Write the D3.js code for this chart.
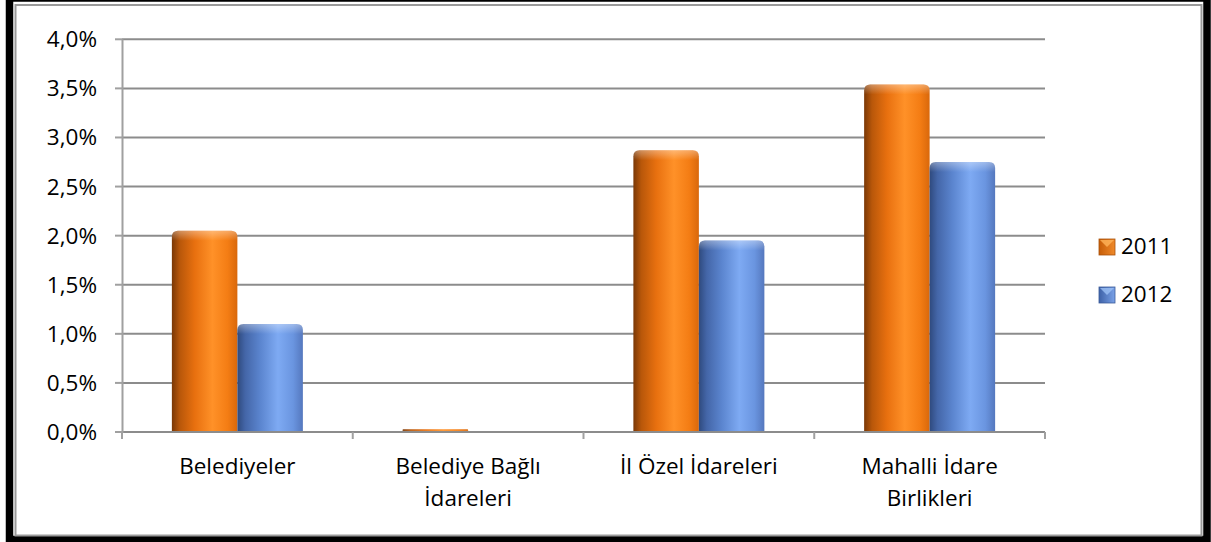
<!DOCTYPE html>
<html><head><meta charset="utf-8">
<script src="https://cdn.jsdelivr.net/npm/d3@7"></script>
<style>
html,body{margin:0;padding:0;background:#fff;}
svg{display:block;font-family:"Open Sans",sans-serif;}
</style></head><body>
<svg id="c" width="1211" height="542"></svg>
<script>
const categories = [["Belediyeler"], ["Belediye Bağlı", "İdareleri"], ["İl Özel İdareleri"], ["Mahalli İdare", "Birlikleri"]];
const seriesNames = ["2011", "2012"];
const values2011 = [2.05, 0.03, 2.87, 3.54];
const values2012 = [1.10, 0.0, 1.95, 2.75];
const yTicks = [0, 0.5, 1.0, 1.5, 2.0, 2.5, 3.0, 3.5, 4.0];

const svg = d3.select("#c");
const W = 1211, H = 542;
// frame
svg.append("rect").attr("x",0).attr("y",0).attr("width",W).attr("height",H).attr("fill","#fff");
svg.append("rect").attr("x",9.5).attr("y",-2).attr("width",1197.5).attr("height",541.5)
  .attr("fill","none").attr("stroke","#000").attr("stroke-width",7.5);
svg.append("rect").attr("x",15.5).attr("y",5).attr("width",1186).attr("height",530.5)
  .attr("fill","#fff").attr("stroke","#9a9a9a").attr("stroke-width",2);

const defs = svg.append("defs");
function grad(id, stops){
  const g = defs.append("linearGradient").attr("id",id).attr("x1","0").attr("x2","1").attr("y1","0").attr("y2","0");
  stops.forEach(s=>g.append("stop").attr("offset",s[0]).attr("stop-color",s[1]));
}
grad("gO", [[0,"#7a3806"],[0.12,"#b8570a"],[0.35,"#e8700f"],[0.62,"#ff9128"],[0.85,"#f47d14"],[1,"#d9680b"]]);
grad("gB", [[0,"#2f4a7e"],[0.12,"#4466a8"],[0.35,"#5b85cf"],[0.62,"#7eaaf3"],[0.85,"#6a95e0"],[1,"#5578be"]]);
const lg = defs.append("linearGradient").attr("id","gTop").attr("x1","0").attr("x2","0").attr("y1","0").attr("y2","1");
lg.append("stop").attr("offset",0).attr("stop-color","#fff").attr("stop-opacity",0.35);
lg.append("stop").attr("offset",1).attr("stop-color","#fff").attr("stop-opacity",0);
grad("lO", [[0,"#c65d08"],[1,"#f08a2a"]]);
grad("lB", [[0,"#3e62a8"],[1,"#7aa2e8"]]);

const x0 = d3.scaleBand().domain(d3.range(categories.length)).range([122, 1045]).padding(0);
const y = d3.scaleLinear().domain([0, 4]).range([432, 39.3]);
const barW = 65.5;
const x1 = d3.scaleBand().domain(seriesNames).range([0, barW*2]).padding(0);

const g = svg.append("g");
// gridlines
g.selectAll("line.grid").data(yTicks).enter().append("line")
  .attr("x1",122).attr("x2",1045).attr("y1",d=>y(d)).attr("y2",d=>y(d))
  .attr("stroke","#8c8c8c").attr("stroke-width",2);
// y axis
g.append("line").attr("x1",122.5).attr("x2",122.5).attr("y1",y(4)).attr("y2",y(0)+1)
  .attr("stroke","#a0a0a0").attr("stroke-width",2);
g.selectAll("line.yt").data(yTicks).enter().append("line")
  .attr("x1",115).attr("x2",122).attr("y1",d=>y(d)).attr("y2",d=>y(d))
  .attr("stroke","#a0a0a0").attr("stroke-width",2);
g.selectAll("text.yl").data(yTicks).enter().append("text")
  .attr("x",97).attr("y",d=>y(d)+8).attr("text-anchor","end")
  .attr("font-size",22.5).attr("fill","#000")
  .text(d=>d3.format(".1f")(d).replace(".",",")+"%");
// x ticks
const xt = d3.range(categories.length+1).map(i=> i<categories.length ? x0(i) : x0(categories.length-1)+x0.bandwidth());
g.selectAll("line.xt").data(xt).enter().append("line")
  .attr("x1",d=>d).attr("x2",d=>d).attr("y1",y(0)).attr("y2",y(0)+7)
  .attr("stroke","#a0a0a0").attr("stroke-width",2);

// bars
function barPath(x, w, top, bottom){
  const h = bottom - top;
  const r = Math.min(6, h/2, w/2);
  return `M${x},${bottom} L${x},${top+r} Q${x},${top} ${x+r},${top} L${x+w-r},${top} Q${x+w},${top} ${x+w},${top+r} L${x+w},${bottom} Z`;
}
const series = [{name:"2011", vals:values2011, fill:"url(#gO)"},{name:"2012", vals:values2012, fill:"url(#gB)"}];
series.forEach(s=>{
  s.vals.forEach((v,i)=>{
    if (v<=0) return;
    const bx = x0(i) + (x0.bandwidth()-barW*2)/2 + x1(s.name);
    const top = y(v), bottom = y(0)-1;
    g.append("path").attr("d", barPath(bx, barW, top, bottom)).attr("fill", s.fill);
    const th = Math.min(10, bottom-top);
    g.append("path").attr("d", barPath(bx, barW, top, top+th)).attr("fill","url(#gTop)");
  });
});

// category labels
categories.forEach((lines,i)=>{
  const cx = x0(i) + x0.bandwidth()/2;
  const t = g.append("text").attr("text-anchor","middle").attr("font-size",22.5).attr("fill","#000");
  lines.forEach((ln,j)=>{
    t.append("tspan").attr("x",cx).attr("y",474 + j*31.5).text(ln);
  });
});

// legend
const legFills = ["url(#lO)","url(#lB)"];
seriesNames.forEach((n,i)=>{
  const ly = 239 + i*48;
  g.append("rect").attr("x",1099).attr("y",ly).attr("width",16).attr("height",16)
    .attr("fill",legFills[i]).attr("stroke", i===0?"#a8520a":"#3a5a98").attr("stroke-width",0.8);
  g.append("path").attr("d",`M1100,${ly+1} L1114,${ly+1} L1107,${ly+8} Z`).attr("fill", i===0?"#ffb45a":"#9cc0f5").attr("opacity",0.8);
  g.append("text").attr("x",1121).attr("y",ly+15).attr("font-size",22.5).attr("fill","#000").text(n);
});
</script>
</body></html>
